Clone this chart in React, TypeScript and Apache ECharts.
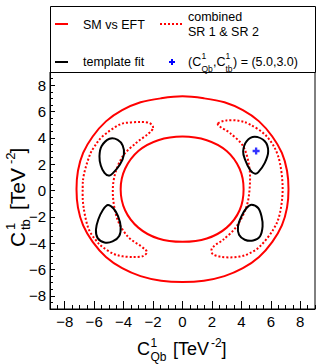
import React, { useEffect, useRef } from "react";
import * as echarts from "echarts";

// ---------- data ----------
const majorTicks = [-8, -6, -4, -2, 0, 2, 4, 6, 8];

// SM vs EFT contour: outer and inner rings
const smOuter: number[][] = [
  [0, 7.15], [-1.45, 7.0], [-2.85, 6.7], [-4.1, 6.1], [-5.2, 5.25], [-6.1, 4.1],
  [-6.75, 2.85], [-7.1, 1.5], [-7.2, 0.1], [-7.1, -1.3], [-6.75, -2.65],
  [-6.1, -3.9], [-5.2, -5.05], [-4.1, -5.9], [-2.85, -6.5], [-1.45, -6.85],
  [0, -6.95], [1.45, -6.85], [2.85, -6.5], [4.1, -5.9], [5.2, -5.05],
  [6.1, -3.9], [6.75, -2.65], [7.1, -1.3], [7.2, 0.1], [7.1, 1.5],
  [6.75, 2.85], [6.1, 4.1], [5.2, 5.25], [4.1, 6.1], [2.85, 6.7], [1.45, 7.0],
];
const smInner: number[][] = [
  [0, 4.1], [-1.65, 3.82], [-3.0, 3.0], [-3.9, 1.65], [-4.2, 0.1],
  [-3.9, -1.5], [-3.0, -2.82], [-1.65, -3.65], [0, -3.9],
  [1.65, -3.65], [3.0, -2.82], [3.88, -1.5], [4.15, 0.1],
  [3.88, 1.65], [3.0, 3.0], [1.65, 3.82],
];

// combined SR 1 & SR 2 contours (two crescents)
const comboLeft: number[][] = [
  [-2.0, 4.75], [-2.24, 5.12], [-2.8, 5.2], [-3.5, 5.17], [-4.28, 5.0],
  [-5.42, 4.12], [-6.0, 3.3], [-6.33, 2.6], [-6.7, 1.2], [-6.78, 0.2],
  [-6.73, -1.2], [-6.4, -2.85], [-5.9, -3.75], [-5.42, -4.3], [-4.7, -4.8],
  [-4.06, -5.0], [-3.3, -5.05], [-2.69, -4.98], [-2.42, -4.65], [-2.8, -4.25],
  [-3.71, -3.5], [-4.4, -2.25], [-4.72, -0.5], [-4.62, 1.08], [-4.06, 2.6],
  [-3.14, 3.62], [-2.35, 4.28],
];
const comboRight: number[][] = [
  [2.41, 5.1], [2.99, 5.32], [3.8, 5.3], [4.57, 5.02], [5.71, 4.12],
  [6.5, 2.6], [6.8, 0.32], [6.62, -1.71], [6.16, -2.98], [5.26, -4.25],
  [4.5, -4.8], [3.89, -5.02], [3.2, -5.08], [2.53, -5.02], [2.05, -4.82],
  [1.98, -4.45], [2.25, -4.12], [2.76, -3.74], [3.67, -2.73], [4.35, -1.21],
  [4.57, 0.32], [4.53, 1.84], [4.12, 3.36], [3.21, 4.38], [2.6, 4.8],
];

// template fit contours (four closed blobs)
const tplLeftTop: number[][] = [
  [-4.96, 3.93], [-4.4, 3.85], [-4.06, 3.4], [-3.98, 2.73], [-4.25, 1.97],
  [-4.74, 1.3], [-5.01, 1.13], [-5.3, 1.34], [-5.55, 1.9], [-5.64, 2.6],
  [-5.5, 3.36],
];
const tplLeftBottom: number[][] = [
  [-5.08, -1.1], [-4.7, -1.35], [-4.38, -1.95], [-4.2, -2.75], [-4.3, -3.45],
  [-4.75, -3.87], [-5.3, -3.95], [-5.76, -3.62], [-5.88, -2.98], [-5.72, -2.2],
  [-5.42, -1.5],
];
const tplRightTop: number[][] = [
  [4.91, 4.08], [5.59, 3.74], [5.82, 2.98], [5.59, 2.1], [5.14, 1.38],
  [4.91, 1.28], [4.6, 1.55], [4.25, 2.35], [4.12, 2.98], [4.35, 3.74],
];
const tplRightBottom: number[][] = [
  [4.69, -1.08], [5.14, -1.33], [5.37, -1.97], [5.44, -2.73], [5.26, -3.49],
  [4.8, -3.8], [4.23, -3.74], [3.84, -3.36], [3.77, -2.73], [4.0, -1.97],
  [4.35, -1.33],
];

// injected point (C_Qb, C_tb)
const injected: number[][] = [[5.0, 3.0]];

// ---------- styling helpers ----------
const FONT = "Liberation Sans";
const RED = "#ff0000";
const BLUE = "#0000ff";
const plus = "path://M2,0H4V2H6V4H4V6H2V4H0V2H2Z";

const fmt = (v: number) => String(v).replace("-", "\u2212");

// closed smooth curve through pixel points (Catmull-Rom as cubic Bezier)
const closedSpline = (pix: number[][]) => {
  const n = pix.length;
  const t = 1 / 6;
  let d = `M${pix[0][0]},${pix[0][1]}`;
  for (let i = 0; i < n; i++) {
    const p0 = pix[(i - 1 + n) % n];
    const p1 = pix[i];
    const p2 = pix[(i + 1) % n];
    const p3 = pix[(i + 2) % n];
    const c1x = p1[0] + (p2[0] - p0[0]) * t;
    const c1y = p1[1] + (p2[1] - p0[1]) * t;
    const c2x = p2[0] - (p3[0] - p1[0]) * t;
    const c2y = p2[1] - (p3[1] - p1[1]) * t;
    d += `C${c1x},${c1y} ${c2x},${c2y} ${p2[0]},${p2[1]}`;
  }
  return d + "Z";
};

const contour = (pts: number[][], color: string, dotted: boolean) => ({
  type: "custom",
  xAxisIndex: 0,
  yAxisIndex: 0,
  data: pts,
  encode: { x: 0, y: 1 },
  silent: true,
  clip: true,
  renderItem: (params: any, api: any) => {
    if (params.dataIndex !== 0) return null;
    const pix = pts.map((p) => api.coord(p));
    return {
      type: "path",
      shape: { pathData: closedSpline(pix) },
      style: {
        fill: "none",
        stroke: color,
        lineWidth: 2,
        lineDash: dotted ? [2, 2] : null,
      },
    };
  },
});

const txt = (x: number, y: number, text: string, size: number) => ({
  type: "text",
  x,
  y,
  style: {
    text,
    fontSize: size,
    fontFamily: FONT,
    fill: "#000",
    align: "left",
    verticalAlign: "middle",
  },
});

export default function App() {
  const ref = useRef<HTMLDivElement>(null);

  useEffect(() => {
    if (!ref.current) return;
    const chart = echarts.init(ref.current, undefined, { renderer: "svg" });

    const axisBase = {
      type: "value",
      min: -9,
      max: 9,
      splitLine: { show: false },
    };

    const option: any = {
      animation: false,
      backgroundColor: "#fff",
      grid: {
        left: 50,
        right: 17,
        top: 72,
        bottom: 55,
        show: true,
        borderColor: "#000",
        borderWidth: 1,
        outerBoundsMode: "none",
      },
      xAxis: [
        {
          ...axisBase,
          position: "bottom",
          interval: 0.5,
          axisLine: { show: true, onZero: false, lineStyle: { color: "#000", width: 1 } },
          axisTick: { show: true, inside: true, length: 4, lineStyle: { color: "#000" } },
          axisLabel: { show: false },
        },
        {
          ...axisBase,
          position: "bottom",
          axisLine: { show: false, onZero: false },
          axisTick: {
            show: true,
            inside: true,
            length: 8,
            customValues: majorTicks,
            lineStyle: { color: "#000" },
          },
          axisLabel: {
            show: true,
            customValues: majorTicks,
            margin: 5,
            formatter: fmt,
            fontSize: 15,
            fontFamily: FONT,
            color: "#000",
          },
        },
      ],
      yAxis: [
        {
          ...axisBase,
          position: "left",
          interval: 0.5,
          axisLine: { show: true, onZero: false, lineStyle: { color: "#000", width: 1 } },
          axisTick: { show: true, inside: true, length: 3, lineStyle: { color: "#000" } },
          axisLabel: { show: false },
        },
        {
          ...axisBase,
          position: "left",
          axisLine: { show: false, onZero: false },
          axisTick: {
            show: true,
            inside: true,
            length: 5,
            customValues: majorTicks,
            lineStyle: { color: "#000" },
          },
          axisLabel: {
            show: true,
            customValues: majorTicks,
            margin: 4,
            formatter: fmt,
            fontSize: 15,
            fontFamily: FONT,
            color: "#000",
          },
        },
      ],
      series: [
        contour(smOuter, RED, false),
        contour(smInner, RED, false),
        contour(comboLeft, RED, true),
        contour(comboRight, RED, true),
        contour(tplLeftTop, "#000", false),
        contour(tplLeftBottom, "#000", false),
        contour(tplRightTop, "#000", false),
        contour(tplRightBottom, "#000", false),
        {
          type: "scatter",
          xAxisIndex: 0,
          yAxisIndex: 0,
          data: injected,
          symbol: plus,
          symbolSize: 7,
          itemStyle: { color: BLUE },
          silent: true,
          z: 5,
        },
      ],
      graphic: [
        // legend
        {
          type: "group",
          children: [
            {
              type: "rect",
              shape: { x: 50.5, y: 6.5, width: 265, height: 66 },
              style: { fill: "#fff", stroke: "#000", lineWidth: 1 },
            },
            { type: "line", shape: { x1: 55, y1: 24, x2: 68, y2: 24 }, style: { stroke: RED, lineWidth: 2 } },
            txt(83, 24.5, "SM vs EFT", 12.5),
            { type: "line", shape: { x1: 160, y1: 24, x2: 183, y2: 24 }, style: { stroke: RED, lineWidth: 2, lineDash: [2, 2] } },
            txt(188, 16.5, "combined", 12.5),
            txt(188, 31.5, "SR 1 & SR 2", 12.5),
            { type: "line", shape: { x1: 55, y1: 62, x2: 68, y2: 62 }, style: { stroke: "#000", lineWidth: 2 } },
            txt(83, 61.5, "template fit", 12.5),
            {
              type: "polygon",
              shape: {
                points: [
                  [171, 59], [173, 59], [173, 61], [175, 61], [175, 63], [173, 63],
                  [173, 65], [171, 65], [171, 63], [169, 63], [169, 61], [171, 61],
                ],
              },
              style: { fill: BLUE },
            },
            txt(188, 61.5, "(C", 12.5),
            txt(201.5, 56, "1", 8.5),
            txt(201.5, 69, "Qb", 8.5),
            txt(213, 61.5, ",C", 12.5),
            txt(225.5, 56, "1", 8.5),
            txt(225.5, 69, "tb", 8.5),
            txt(233, 61.5, ") = (5.0,3.0)", 12.5),
          ],
        },
        // x axis title
        {
          type: "group",
          children: [
            txt(137, 348.5, "C", 18),
            txt(150.5, 342.5, "1", 12),
            txt(150.5, 357, "Qb", 12),
            txt(173, 348.5, "[TeV", 18),
            txt(211, 342.5, "-2", 12),
            txt(221.5, 348.5, "]", 18),
          ],
        },
        // y axis title (rotated)
        {
          type: "group",
          x: 17,
          y: 247,
          rotation: Math.PI / 2,
          children: [
            txt(0, 0, "C", 21),
            txt(17, -6.5, "1", 13),
            txt(17, 8, "tb", 13),
            txt(37, 0, "[TeV", 21),
            txt(83, -6.5, "-2", 13),
            txt(93.5, 0, "]", 21),
          ],
        },
      ],
    };

    chart.setOption(option);
    return () => chart.dispose();
  }, []);

  return (
    <div
      ref={ref}
      style={{ position: "fixed", left: 0, top: 0, width: 332, height: 364, background: "#fff" }}
    />
  );
}
